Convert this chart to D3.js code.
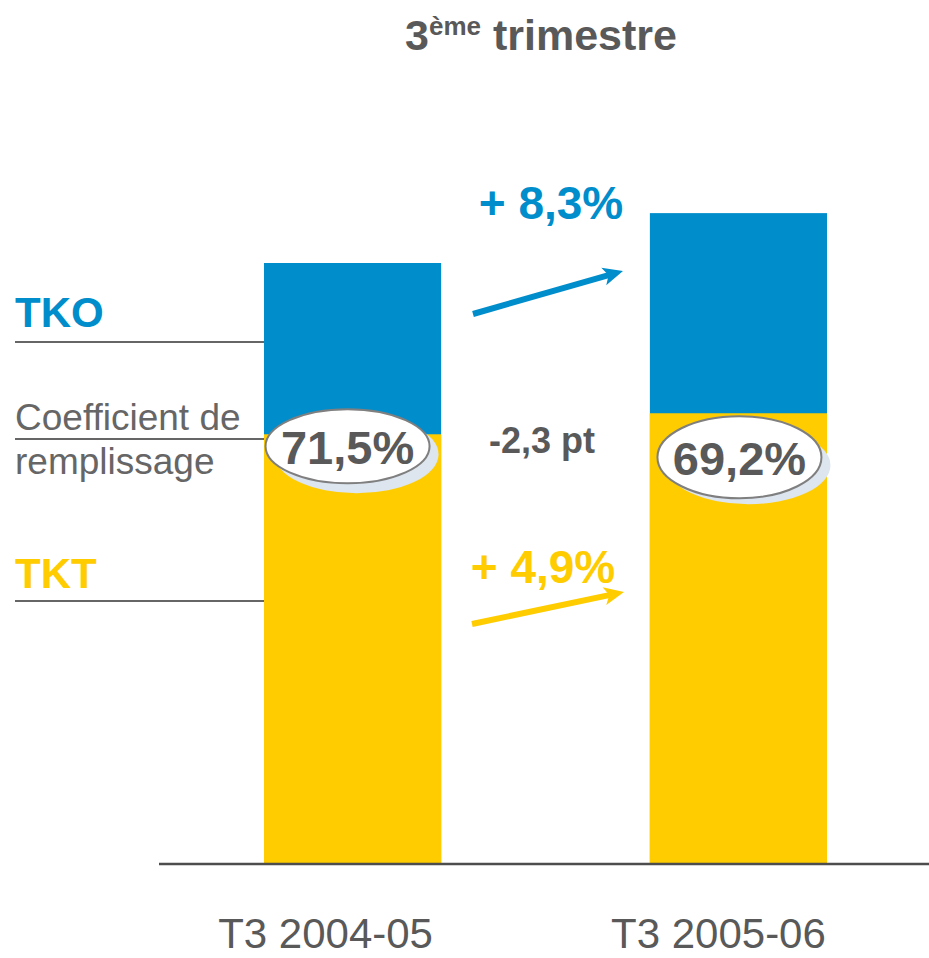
<!DOCTYPE html>
<html>
<head>
<meta charset="utf-8">
<script src="https://cdn.jsdelivr.net/npm/d3@7.9.0/dist/d3.min.js"></script>
<style>
  body { margin: 0; background: #fff; }
  svg { display: block; }
  svg text { font-family: "Liberation Sans", Arial, Helvetica, sans-serif; }
</style>
</head>
<body>
<svg id="chart" width="929" height="958"></svg>
<script>
// data
const categories = ['T3 2004-05', 'T3 2005-06'];
const tko = [100, 108.3];        // index, total bar height
const tkt = [71.5, 75.0];        // index, yellow part
const coefLabels = ['71,5%', '69,2%'];
const tkoGrowth = '+ 8,3%';
const tktGrowth = '+ 4,9%';
const coefDelta = '-2,3 pt';
const rowLabels = ['TKO', 'Coefficient de', 'remplissage', 'TKT'];

const blue = '#008dcb', yellow = '#ffcc00', grey = '#595959';

const svg = d3.select('#chart');

const x = d3.scaleBand().domain(categories).range([264, 827]).paddingInner(0.541).paddingOuter(0);
const y = d3.scaleLinear().domain([0, 100]).range([864, 263]);

// title
const title = svg.append('text').attr('x', 541).attr('y', 50)
  .attr('text-anchor', 'middle').attr('fill', grey)
  .attr('font-weight', 'bold').attr('font-size', 43);
title.append('tspan').text('3');
title.append('tspan').attr('font-size', 26).attr('dy', -15).text('ème');
title.append('tspan').attr('dy', 15).text(' trimestre');

// row guide lines on the left
[342, 439, 601].forEach(v => {
  svg.append('line').attr('x1', 15).attr('x2', x(categories[0]))
    .attr('y1', v).attr('y2', v).attr('stroke', '#666').attr('stroke-width', 2);
});

svg.append('text').attr('x', 15).attr('y', 327).attr('fill', blue)
  .attr('font-weight', 'bold').attr('font-size', 42).text(rowLabels[0]);
svg.append('text').attr('x', 15).attr('y', 430).attr('fill', '#666')
  .attr('font-size', 37).text(rowLabels[1]);
svg.append('text').attr('x', 15).attr('y', 474).attr('fill', '#666')
  .attr('font-size', 37).text(rowLabels[2]);
svg.append('text').attr('x', 15).attr('y', 588).attr('fill', yellow)
  .attr('font-weight', 'bold').attr('font-size', 42).text(rowLabels[3]);

// bars
svg.selectAll('rect.tko').data(categories).join('rect')
  .attr('class', 'tko')
  .attr('x', d => x(d)).attr('width', x.bandwidth())
  .attr('y', (d, i) => y(tko[i])).attr('height', (d, i) => y(0) - y(tko[i]))
  .attr('fill', blue);
svg.selectAll('rect.tkt').data(categories).join('rect')
  .attr('class', 'tkt')
  .attr('x', d => x(d)).attr('width', x.bandwidth())
  .attr('y', (d, i) => y(tkt[i])).attr('height', (d, i) => y(0) - y(tkt[i]))
  .attr('fill', yellow);

// baseline
svg.append('line').attr('x1', 159).attr('x2', 929)
  .attr('y1', y(0)).attr('y2', y(0)).attr('stroke', '#4d4d4d').attr('stroke-width', 2.5);

// category labels
const catShift = [-27, -20];
svg.selectAll('text.cat').data(categories).join('text')
  .attr('class', 'cat')
  .attr('x', (d, i) => x(d) + x.bandwidth() / 2 + catShift[i]).attr('y', 948)
  .attr('text-anchor', 'middle').attr('fill', grey).attr('font-size', 42)
  .text(d => d);

// coefficient ellipses
const ellShift = [[-5, 12], [1, 44]];
const ell = svg.selectAll('g.coef').data(categories).join('g')
  .attr('class', 'coef')
  .attr('transform', (d, i) => `translate(${x(d) + x.bandwidth() / 2 + ellShift[i][0]},${y(tkt[i]) + ellShift[i][1]})`);
ell.append('ellipse').attr('cx', 9).attr('cy', 8).attr('rx', 82).attr('ry', 39)
  .attr('fill', '#dde5ee');
ell.append('ellipse').attr('rx', 82).attr('ry', (d, i) => [37, 41][i])
  .attr('fill', '#fff').attr('stroke', '#7f7f7f').attr('stroke-width', 2);
ell.append('text').attr('y', 18).attr('text-anchor', 'middle')
  .attr('fill', grey).attr('font-weight', 'bold').attr('font-size', 47)
  .text((d, i) => coefLabels[i]);

// middle annotations
svg.append('text').attr('x', 542).attr('y', 453).attr('text-anchor', 'middle')
  .attr('fill', grey).attr('font-weight', 'bold').attr('font-size', 36).text(coefDelta);
svg.append('text').attr('x', 551).attr('y', 219).attr('text-anchor', 'middle')
  .attr('fill', blue).attr('font-weight', 'bold').attr('font-size', 46).text(tkoGrowth);
svg.append('text').attr('x', 543).attr('y', 583).attr('text-anchor', 'middle')
  .attr('fill', yellow).attr('font-weight', 'bold').attr('font-size', 46).text(tktGrowth);

// arrows
function arrow(x1, y1, x2, y2, color) {
  const ang = Math.atan2(y2 - y1, x2 - x1);
  const len = Math.hypot(x2 - x1, y2 - y1);
  const g = svg.append('g')
    .attr('transform', `translate(${x1},${y1}) rotate(${ang * 180 / Math.PI})`);
  g.append('rect').attr('x', 0).attr('y', -3).attr('width', len - 14).attr('height', 6).attr('fill', color);
  g.append('path').attr('d', `M${len},0 L${len - 20},-9 L${len - 15},0 L${len - 20},9 Z`).attr('fill', color);
}
arrow(473, 314, 623, 271, blue);
arrow(472, 624, 624, 592, yellow);
</script>
</body>
</html>
